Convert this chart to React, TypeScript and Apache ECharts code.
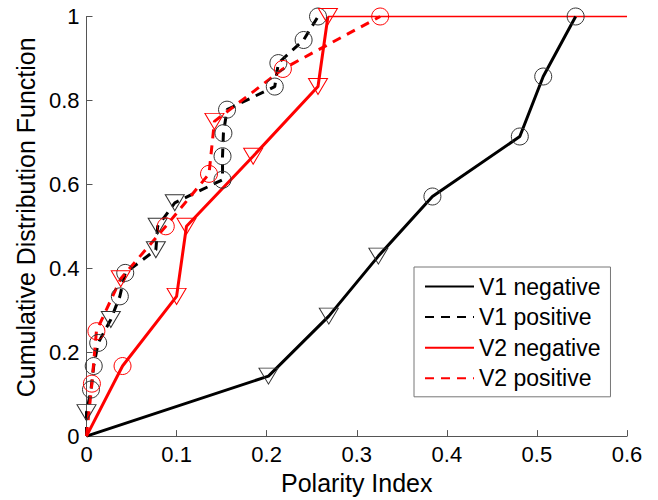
import React, { useEffect, useRef } from 'react';
import * as echarts from 'echarts';

const FONT = '"Liberation Sans", Arial, Helvetica, sans-serif';

const seriesNames = ['V1 negative', 'V1 positive', 'V2 negative', 'V2 positive'];

// marker codes: 'o' circle, 'v' down-triangle, '' none
const v1NegX = [0, 0.202, 0.269, 0.324, 0.384, 0.481, 0.507, 0.543];
const v1NegY = [0, 0.143, 0.286, 0.429, 0.571, 0.714, 0.857, 1.0];
const v1NegM = ['', 'v', 'v', 'v', 'o', 'o', 'o', 'o'];

const v1PosX = [0, 0.0, 0.005, 0.008, 0.013, 0.027, 0.037, 0.043, 0.077, 0.079, 0.098, 0.151, 0.151, 0.152, 0.156, 0.209, 0.213, 0.241, 0.257];
const v1PosY = [0, 0.056, 0.111, 0.167, 0.222, 0.278, 0.333, 0.389, 0.444, 0.5, 0.556, 0.611, 0.667, 0.722, 0.778, 0.833, 0.889, 0.944, 1.0];
const v1PosM = ['', 'v', 'o', 'o', 'o', 'v', 'o', 'o', 'v', 'v', 'v', 'o', 'o', 'o', 'o', 'o', 'o', 'o', 'o'];

const v2NegX = [0, 0.04, 0.1, 0.111, 0.185, 0.257, 0.268];
const v2NegY = [0, 0.167, 0.333, 0.5, 0.667, 0.833, 1.0];
const v2NegM = ['', 'o', 'v', 'v', 'v', 'v', 'v'];

const v2PosX = [0, 0.006, 0.011, 0.038, 0.088, 0.136, 0.142, 0.218, 0.326];
const v2PosY = [0, 0.125, 0.25, 0.375, 0.5, 0.625, 0.75, 0.875, 1.0];
const v2PosM = ['', 'o', 'o', 'v', 'o', 'o', 'v', 'o', 'o'];

const v2TailX = [0.268, 0.6];
const v2TailY = [1.0, 1.0];

const TRI = 'path://M0,0L20,0L10,17Z';

function buildData(xs: number[], ys: number[], ms: string[]) {
  return xs.map((x, i) => {
    const m = ms[i];
    if (m === 'v') return { value: [x, ys[i]], symbol: TRI, symbolSize: [19, 16] };
    if (m === 'o') return { value: [x, ys[i]], symbol: 'circle', symbolSize: 17 };
    return { value: [x, ys[i]], symbol: 'none' };
  });
}

function lineSeries(name: string, data: any[], color: string, markerColor: string, dashed: boolean) {
  return {
    name,
    type: 'line',
    data,
    clip: false,
    symbol: 'circle',
    symbolSize: 17,
    lineStyle: { color, width: 3, type: dashed ? [9, 7] : 'solid', cap: 'butt' },
    itemStyle: { color: 'transparent', borderColor: markerColor, borderWidth: 1 },
    emphasis: { disabled: true },
  };
}

export default function App() {
  const ref = useRef<HTMLDivElement>(null);
  useEffect(() => {
    if (!ref.current) return;
    const chart = echarts.init(ref.current, null, { renderer: 'svg' });
    const axisColor = '#555';
    chart.setOption({
      animation: false,
      backgroundColor: '#fff',
      grid: { left: 86.5, top: 16.5, width: 540.5, height: 424.5, containLabel: false },
      xAxis: {
        type: 'value',
        min: 0,
        max: 0.6,
        interval: 0.1,
        name: 'Polarity Index',
        nameLocation: 'middle',
        nameGap: 31,
        nameTextStyle: { fontSize: 25, fontFamily: FONT, color: '#000' },
        axisLine: { show: true, onZero: false, lineStyle: { color: axisColor, width: 1 } },
        axisTick: { show: true, inside: true, length: 6, lineStyle: { color: axisColor } },
        splitLine: { show: false },
        axisLabel: { fontSize: 22, fontFamily: FONT, color: '#000', margin: 7 },
      },
      yAxis: {
        type: 'value',
        min: 0,
        max: 1,
        interval: 0.2,
        name: 'Cumulative Distribution Function',
        nameLocation: 'middle',
        nameGap: 48,
        nameTextStyle: { fontSize: 25, fontFamily: FONT, color: '#000', padding: [0, 0, 0, 18] },
        axisLine: { show: true, onZero: false, lineStyle: { color: axisColor, width: 1 } },
        axisTick: { show: true, inside: true, length: 6, lineStyle: { color: axisColor } },
        splitLine: { show: false },
        axisLabel: { fontSize: 22, fontFamily: FONT, color: '#000', margin: 7 },
      },
      legend: {
        data: seriesNames,
        orient: 'vertical',
        left: 414,
        top: 267,
        padding: [8, 10, 7, 10],
        itemWidth: 49,
        itemHeight: 23,
        itemGap: 7.6,
        backgroundColor: '#fff',
        borderColor: '#777',
        borderWidth: 1,
        borderRadius: 0,
        selectedMode: false,
        textStyle: { fontSize: 23, fontFamily: FONT, color: '#000', lineHeight: 23 },
        itemStyle: { opacity: 0, borderWidth: 0, color: 'transparent', borderColor: 'transparent' },
      },
      series: [
        {
          name: 'V2 tail',
          type: 'line',
          data: v2TailX.map((x, i) => [x, v2TailY[i]]),
          symbol: 'none',
          clip: false,
          lineStyle: { color: '#ff0000', width: 1.5 },
          emphasis: { disabled: true },
        },
        lineSeries(seriesNames[0], buildData(v1NegX, v1NegY, v1NegM), '#000', '#333', false),
        lineSeries(seriesNames[1], buildData(v1PosX, v1PosY, v1PosM), '#000', '#333', true),
        lineSeries(seriesNames[2], buildData(v2NegX, v2NegY, v2NegM), '#ff0000', '#ff0000', false),
        lineSeries(seriesNames[3], buildData(v2PosX, v2PosY, v2PosM), '#ff0000', '#ff0000', true),
      ],
    });
    return () => chart.dispose();
  }, []);
  return (
    <div
      ref={ref}
      style={{ position: 'fixed', left: 0, top: 0, width: 658, height: 500 }}
    />
  );
}
